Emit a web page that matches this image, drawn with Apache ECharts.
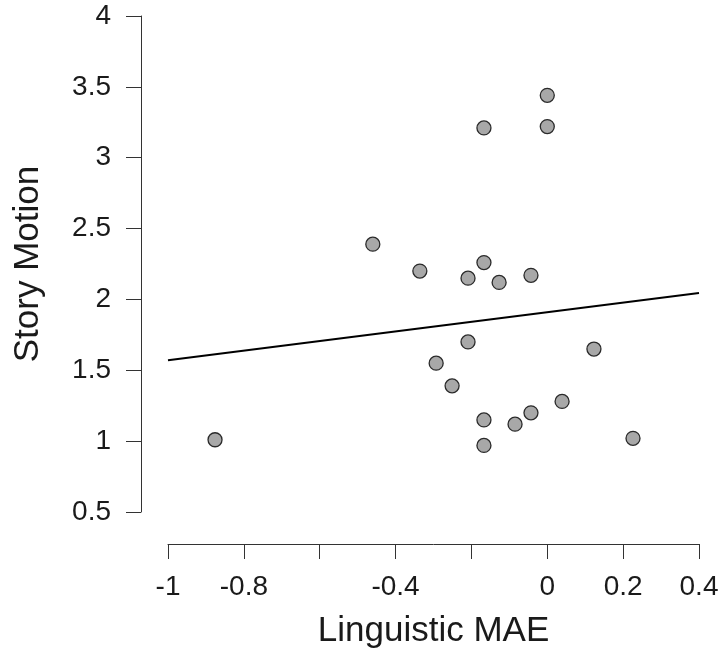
<!DOCTYPE html>
<html>
<head>
<meta charset="utf-8">
<script src="https://cdn.jsdelivr.net/npm/echarts@6.0.0/dist/echarts.min.js"></script>
<style>
  html, body { margin: 0; padding: 0; background: #fff; }
  #chart { width: 723px; height: 650px; }
</style>
</head>
<body>
<div id="chart"></div>
<script>
// scatter points (Linguistic MAE, Story Motion)
const maeX = [-0.876, -0.460, -0.336, -0.293, -0.251, -0.209, -0.209, -0.167, -0.167, -0.167,
              -0.167, -0.127, -0.085, -0.043, -0.043, 0.000, 0.000, 0.039, 0.123, 0.226];
const motionY = [1.01, 2.39, 2.20, 1.55, 1.39, 2.15, 1.70, 3.21, 2.26, 1.15,
                 0.97, 2.12, 1.12, 2.17, 1.20, 3.44, 3.22, 1.28, 1.65, 1.02];

// fitted line end points
const fitX = [-1, 0.4];
const fitY = [1.571, 2.046];

// x tick labels that are printed (the others are left blank)
const xLabelsShown = [-1, -0.8, -0.4, 0, 0.2, 0.4];

const font = 'Liberation Sans, Arial, Helvetica, sans-serif';

const chart = echarts.init(document.getElementById('chart'));

const option = {
  animation: false,
  backgroundColor: '#ffffff',
  grid: {
    left: 168,
    right: 24,
    top: 16,
    bottom: 138,
    outerBoundsMode: 'none'
  },
  xAxis: {
    type: 'value',
    min: -1,
    max: 0.4,
    interval: 0.2,
    offset: 32,
    name: 'Linguistic MAE',
    nameLocation: 'middle',
    nameGap: 70,
    nameTextStyle: { fontFamily: font, fontSize: 35, color: '#1a1a1a' },
    splitLine: { show: false },
    axisLine: { onZero: false, lineStyle: { color: '#333', width: 1 } },
    axisTick: { length: 15, lineStyle: { color: '#333', width: 1 } },
    axisLabel: {
      margin: 29,
      fontFamily: font,
      fontSize: 28,
      color: '#1a1a1a',
      showMinLabel: true,
      showMaxLabel: true,
      formatter: function (v) {
        const hit = xLabelsShown.some(s => Math.abs(s - v) < 1e-6);
        return hit ? String(Math.round(v * 10) / 10) : '';
      }
    }
  },
  yAxis: {
    type: 'value',
    min: 0.5,
    max: 4,
    interval: 0.5,
    offset: 27,
    name: 'Story Motion',
    nameLocation: 'middle',
    nameGap: 95,
    nameTextStyle: { fontFamily: font, fontSize: 35, color: '#1a1a1a' },
    splitLine: { show: false },
    axisLine: { show: true, onZero: false, lineStyle: { color: '#333', width: 1 } },
    axisTick: { show: true, length: 15, lineStyle: { color: '#333', width: 1 } },
    axisLabel: {
      margin: 30,
      fontFamily: font,
      fontSize: 28,
      color: '#1a1a1a',
      showMinLabel: true,
      showMaxLabel: true
    }
  },
  series: [
    {
      type: 'line',
      data: fitX.map((x, i) => [x, fitY[i]]),
      symbol: 'none',
      lineStyle: { color: '#000', width: 2 },
      z: 2,
      silent: true
    },
    {
      type: 'scatter',
      data: maeX.map((x, i) => [x, motionY[i]]),
      symbol: 'circle',
      symbolSize: 14,
      itemStyle: { color: '#a8a8a8', borderColor: '#2a2a2a', borderWidth: 1.3, opacity: 1 },
      z: 3
    }
  ]
};

chart.setOption(option);
</script>
</body>
</html>
